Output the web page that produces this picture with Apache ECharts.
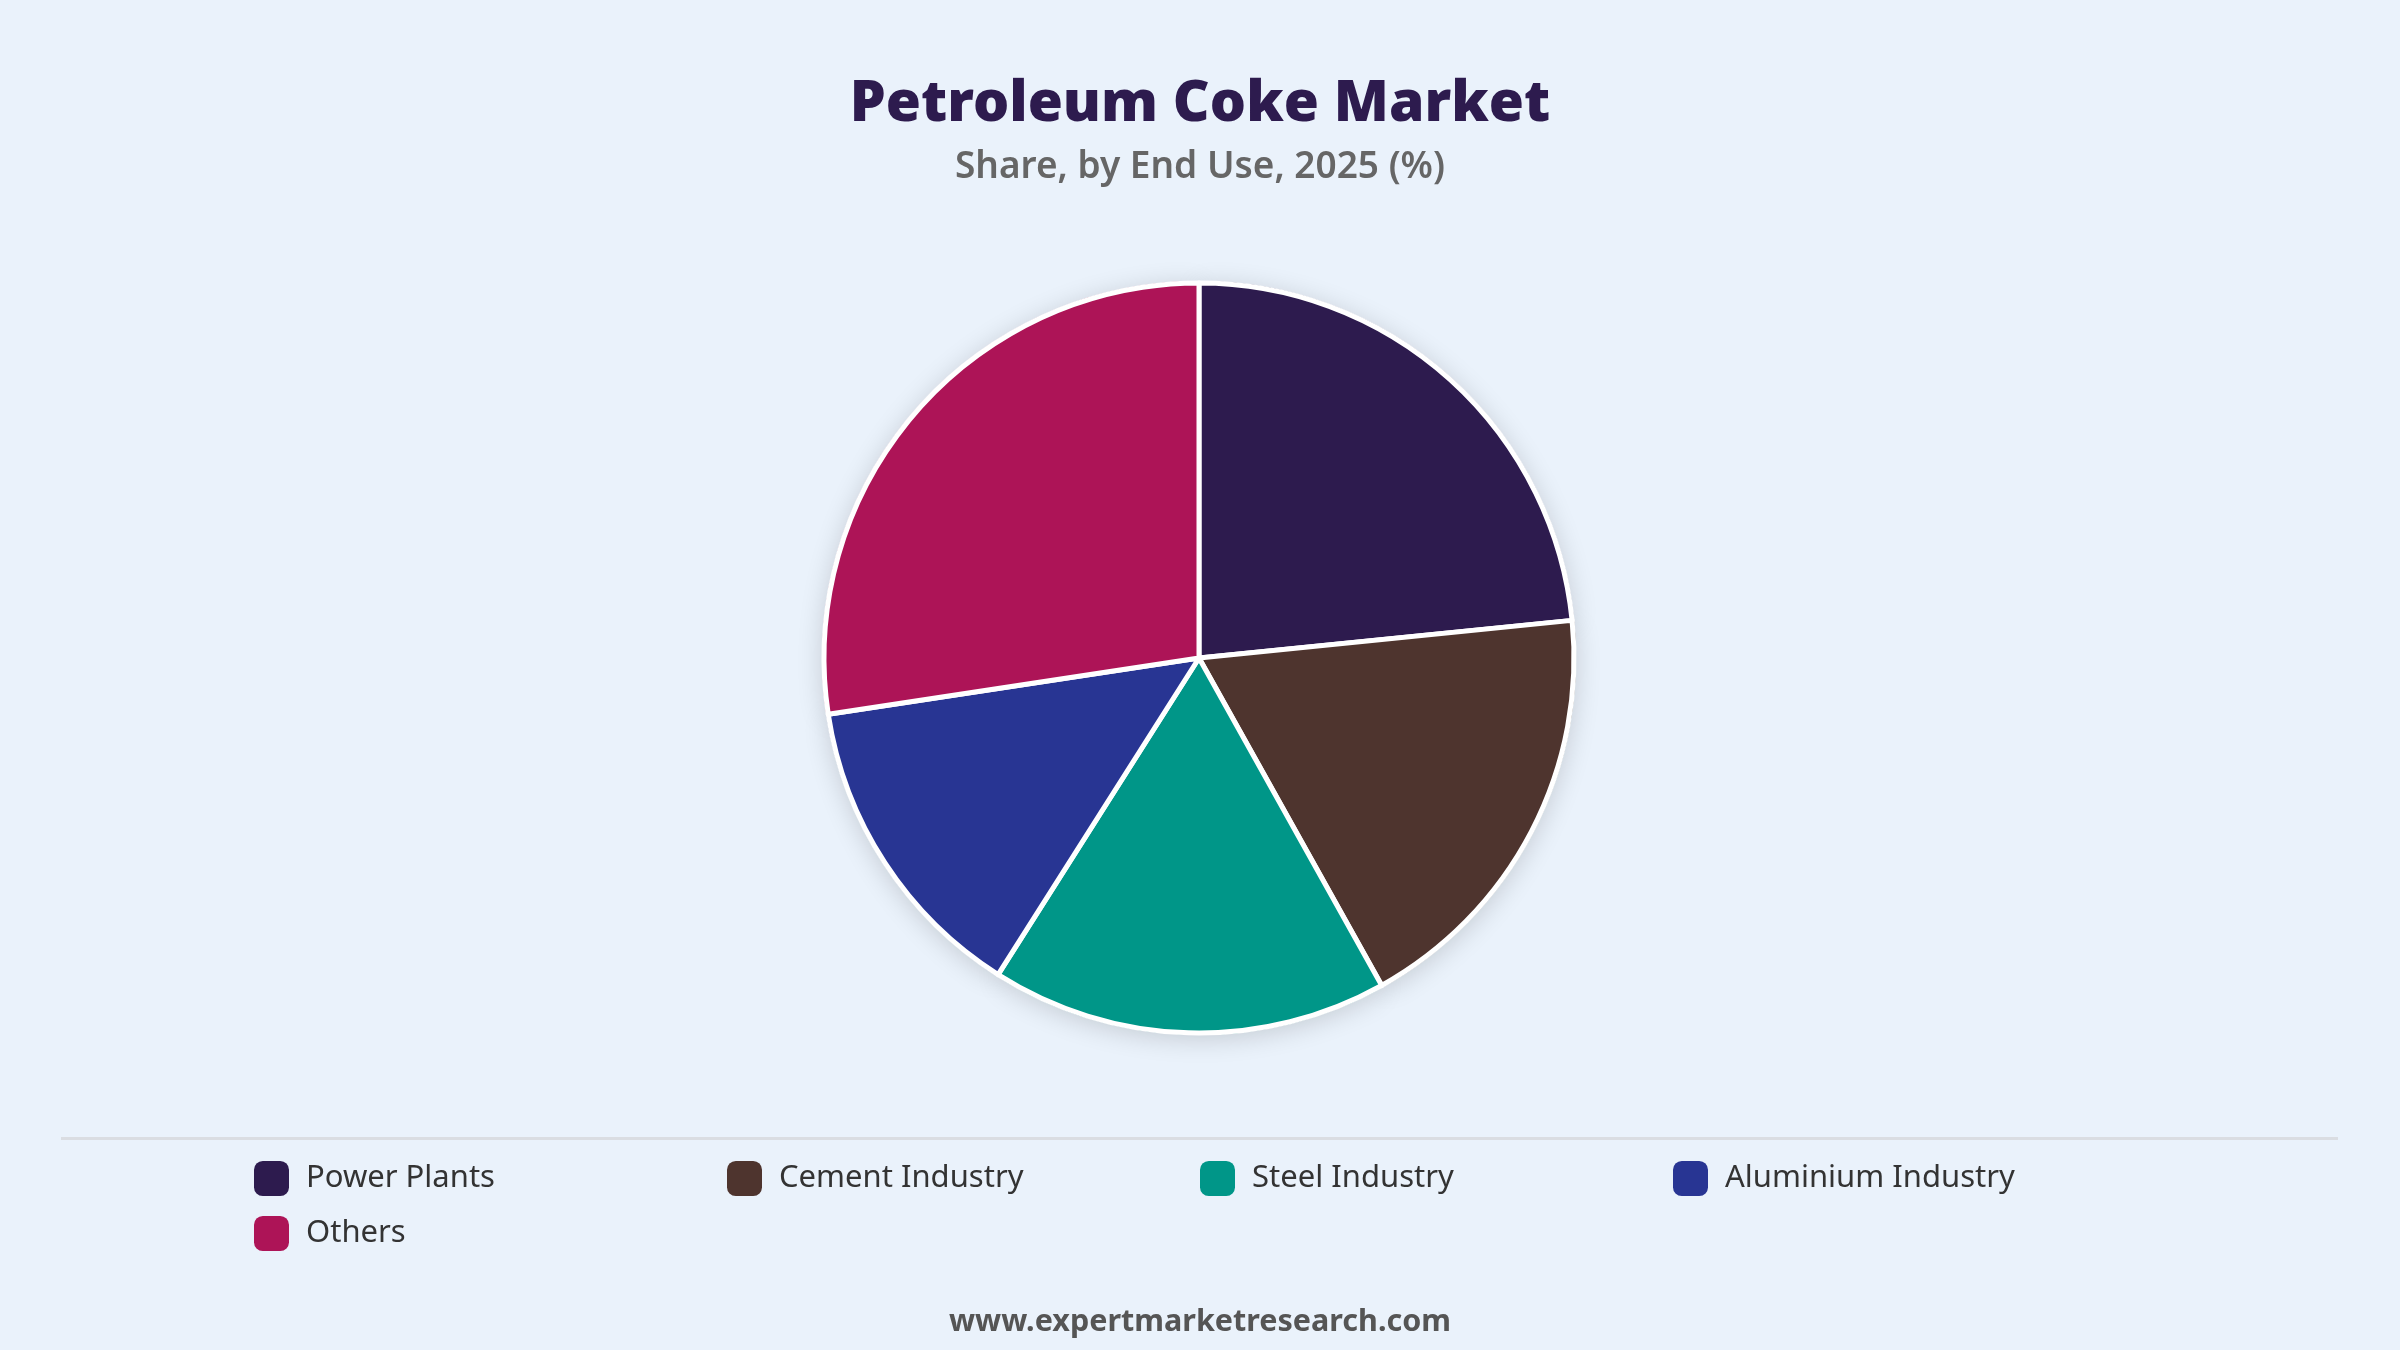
<!DOCTYPE html>
<html>
<head>
<meta charset="utf-8">
<script src="https://cdn.jsdelivr.net/npm/echarts@6/dist/echarts.min.js"></script>
<style>
  html, body { margin: 0; padding: 0; background: #eaf2fb; }
  #main { width: 2400px; height: 1350px; }
</style>
</head>
<body>
<div id="main"></div>
<script>
var categories = ['Power Plants', 'Cement Industry', 'Steel Industry', 'Aluminium Industry', 'Others'];
var shares = [23.4, 18.5, 17.1, 13.6, 27.4];
var colors = ['#2d1b4e', '#4e342e', '#009688', '#283593', '#ad1457'];

var chart = echarts.init(document.getElementById('main'));
var font = '"Noto Sans", sans-serif';

var pieData = categories.map(function (name, i) {
    return { name: name, value: shares[i] };
});

var option = {
    backgroundColor: '#eaf2fb',
    color: colors,
    title: [{
        text: 'Petroleum Coke Market',
        left: 'center',
        top: 62,
        textStyle: {
            fontFamily: font,
            fontSize: 57,
            fontWeight: 900,
            color: '#2d1b4e',
            lineHeight: 76
        }
    }, {
        text: 'Share, by End Use, 2025 (%)',
        left: 'center',
        top: 140,
        textStyle: {
            fontFamily: font,
            fontSize: 37,
            fontWeight: 600,
            color: '#666666',
            lineHeight: 44
        }
    }, {
        text: 'www.expertmarketresearch.com',
        left: 'center',
        top: 1297,
        textStyle: {
            fontFamily: font,
            fontSize: 30.5,
            fontWeight: 'bold',
            color: '#555555',
            lineHeight: 40
        }
    }],
    graphic: [{
        type: 'rect',
        shape: { x: 61, y: 1137, width: 2277, height: 3 },
        style: { fill: '#dadde2' }
    }],
    legend: {
        data: categories,
        orient: 'horizontal',
        left: 254,
        top: 1161,
        width: 1900,
        padding: 0,
        itemWidth: 35,
        itemHeight: 35,
        itemGap: 20,
        icon: 'roundRect',
        textStyle: {
            fontFamily: font,
            fontSize: 31,
            color: '#333333',
            width: 401,
            lineHeight: 35,
            padding: [0, 0, 0, 12]
        }
    },
    series: [{
        // shadow layer underneath, hidden by the slices on top
        name: 'Shadow',
        type: 'pie',
        center: [1199, 658],
        radius: [0, 377],
        startAngle: 90,
        clockwise: true,
        silent: true,
        z: 1,
        label: { show: false },
        labelLine: { show: false },
        itemStyle: {
            borderWidth: 0,
            shadowBlur: 26,
            shadowColor: 'rgba(0, 0, 0, 0.16)',
            shadowOffsetY: 4
        },
        emphasis: { disabled: true },
        animation: false,
        data: pieData
    }, {
        name: 'Share',
        type: 'pie',
        center: [1199, 658],
        radius: [0, 375],
        startAngle: 90,
        clockwise: true,
        z: 2,
        label: { show: false },
        labelLine: { show: false },
        itemStyle: {
            borderColor: '#ffffff',
            borderWidth: 5
        },
        emphasis: { disabled: true },
        animation: false,
        data: pieData
    }]
};

chart.setOption(option);
</script>
</body>
</html>
